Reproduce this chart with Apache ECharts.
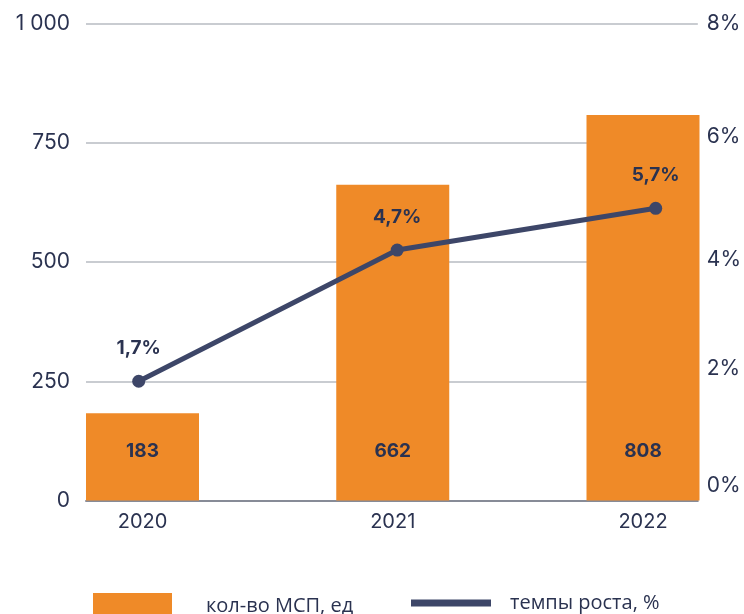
<!DOCTYPE html>
<html>
<head>
<meta charset="utf-8">
<script src="https://cdn.jsdelivr.net/npm/echarts@6/dist/echarts.min.js"></script>
<style>
  html, body { margin: 0; padding: 0; background: #fff; }
  #chart { width: 744px; height: 614px; }
</style>
</head>
<body>
<div id="chart"></div>
<script>
// данные
const years = ['2020', '2021', '2022']
const smeCount = [183, 662, 808]
const growthPos = [2.0, 4.2, 4.9]          // положение точек по правой оси
const growthLabels = ['1,7%', '4,7%', '5,7%'] // подписи как на исходнике
const leftTicks = ['0', '250', '500', '750', '1 000']
const rightTicks = ['0%', '2%', '4%', '6%', '8%']

const textColor = '#2a3250'
const font = 'Inter'

// на исходнике подписи правой оси немного сдвинуты вверх
const rightRich = {
  r0: { fontSize: 21, color: textColor, padding: [0, 0, 30, 0] },
  r1: { fontSize: 21, color: textColor, padding: [0, 0, 26, 0] },
  r2: { fontSize: 21, color: textColor, padding: [0, 0, 4, 0] },
  r3: { fontSize: 21, color: textColor, padding: [0, 0, 12, 0] },
  r4: { fontSize: 21, color: textColor }
}

const chart = echarts.init(document.getElementById('chart'))

const option = {
  animation: false,
  textStyle: { fontFamily: font, color: textColor },
  legend: [
    {
      data: [{ name: 'кол-во МСП, ед', icon: 'rect' }],
      left: 93, top: 593, padding: 0,
      itemWidth: 79, itemHeight: 26,
      textStyle: { fontFamily: 'Open Sans', fontSize: 20, color: textColor, padding: [0, 0, 0, 29] }
    },
    {
      data: [{ name: 'темпы роста, %', icon: 'rect' }],
      left: 411, top: 593, padding: 0,
      itemWidth: 80, itemHeight: 7,
      textStyle: { fontFamily: 'Open Sans', fontSize: 20, color: textColor, padding: [0, 0, 0, 14] }
    }
  ],
  grid: [
    // столбцы
    { left: 142.5, right: 101, top: 23.5, bottom: 113.5 },
    // сетка и подписи осей
    { left: 86, right: 45, top: 23.5, bottom: 113.5 },
    // линия темпов роста
    { left: 138.7, right: 88.3, top: 23.5, bottom: 113.5 }
  ],
  xAxis: [
    {
      type: 'category', gridIndex: 0, data: years, boundaryGap: false,
      axisLine: { show: false }, axisTick: { show: false },
      axisLabel: { fontSize: 20, color: textColor, margin: 11 }
    },
    {
      type: 'category', gridIndex: 1, data: years,
      axisLine: { lineStyle: { color: '#878b97', width: 2 } },
      axisTick: { show: false }, axisLabel: { show: false }
    },
    { type: 'category', gridIndex: 2, data: years, boundaryGap: false, show: false }
  ],
  yAxis: [
    { type: 'value', gridIndex: 0, min: 0, max: 1000, interval: 250, show: false },
    {
      type: 'value', gridIndex: 1, min: 0, max: 1000, interval: 250, position: 'left',
      axisLine: { show: false }, axisTick: { show: false },
      axisLabel: { fontSize: 21, color: textColor, margin: 16, formatter: (v) => leftTicks[v / 250] },
      splitLine: { lineStyle: { color: '#c9ccd1', width: 2 } }
    },
    {
      type: 'value', gridIndex: 1, min: 0, max: 8, interval: 2, position: 'right',
      axisLine: { show: false }, axisTick: { show: false },
      axisLabel: {
        fontSize: 21, color: textColor, margin: 9,
        formatter: (v) => `{r${v / 2}|${rightTicks[v / 2]}}`,
        rich: rightRich
      },
      splitLine: { show: false }
    },
    { type: 'value', gridIndex: 2, min: 0, max: 8, interval: 2, show: false }
  ],
  series: [
    {
      name: 'кол-во МСП, ед',
      type: 'bar',
      xAxisIndex: 0, yAxisIndex: 0,
      data: smeCount,
      barWidth: 113,
      clip: false,
      itemStyle: { color: '#ef8a28' },
      label: {
        show: true, position: 'insideBottom', distance: 40,
        fontSize: 19, fontWeight: 'bold', color: textColor
      }
    },
    {
      name: 'темпы роста, %',
      type: 'line',
      xAxisIndex: 2, yAxisIndex: 3,
      data: growthPos,
      symbol: 'circle', symbolSize: 13,
      lineStyle: { color: '#3d4668', width: 5 },
      itemStyle: { color: '#3d4668' },
      label: {
        show: true, position: 'top', distance: 17,
        fontSize: 19, fontWeight: 'bold', color: textColor,
        formatter: (p) => growthLabels[p.dataIndex]
      }
    }
  ]
}

chart.setOption(option)
</script>
</body>
</html>
